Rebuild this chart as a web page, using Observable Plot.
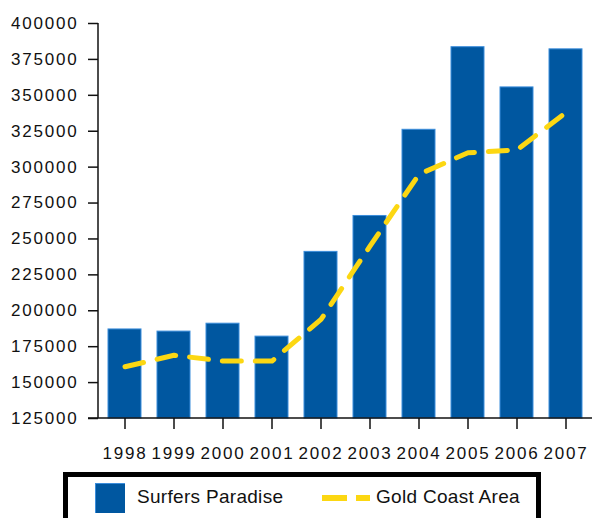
<!DOCTYPE html>
<html>
<head>
<meta charset="utf-8">
<script src="https://cdn.jsdelivr.net/npm/d3@7"></script>
<script src="https://cdn.jsdelivr.net/npm/@observablehq/plot@0.6"></script>
<style>
  html, body { margin: 0; padding: 0; background: #fff; }
  #wrap { width: 592px; height: 518px; overflow: hidden; position: relative; font-family: "Liberation Sans", Arial, sans-serif; }
  #legend { position: absolute; left: 63px; top: 472px; width: 468px; height: 60px; border: 5px solid #000; }
  .sw { position: absolute; }
  .lt { position: absolute; font-size: 19px; letter-spacing: 0.3px; color: #111; top: 9px; }
</style>
</head>
<body>
<div id="wrap"></div>
<script>
const years = ["1998","1999","2000","2001","2002","2003","2004","2005","2006","2007"];
const surfersParadise = [187000, 185500, 191000, 182000, 241000, 266000, 326000, 383500, 355500, 382000];
const goldCoastArea = [161000, 169000, 165000, 165000, 194000, 245000, 295000, 310000, 312000, 338000];
const yTicks = [125000, 150000, 175000, 200000, 225000, 250000, 275000, 300000, 325000, 350000, 375000, 400000];
const seriesNames = ["Surfers Paradise", "Gold Coast Area"];

const rows = years.map((y, i) => ({year: y, sp: surfersParadise[i], gc: goldCoastArea[i]}));

const barFill = "#0057a0";
const lineColor = "#fcd712";

function axisLines(index, scales, values, dimensions) {
  const g = d3.create("svg:g").attr("stroke", "#111").attr("stroke-width", 1.5).attr("fill", "none");
  const x0 = dimensions.marginLeft;
  const x1 = dimensions.width - dimensions.marginRight;
  const yTop = scales.y(d3.max(yTicks));
  const yBot = scales.y(d3.min(yTicks));
  g.append("line").attr("x1", x0).attr("x2", x0).attr("y1", yTop).attr("y2", yBot);
  g.append("line").attr("x1", x0 - 10).attr("x2", x1).attr("y1", yBot).attr("y2", yBot);
  return g.node();
}

const chart = Plot.plot({
  width: 592,
  height: 470,
  marginLeft: 98,
  marginRight: 0,
  marginTop: 23,
  marginBottom: 52,
  style: {fontFamily: "'Liberation Sans', Arial, sans-serif", fontSize: "17px", color: "#111", letterSpacing: "1.8px"},
  x: {domain: years, paddingInner: 0.33, paddingOuter: 0.165, align: 0.5, label: null},
  y: {domain: [125000, 400000], label: null},
  marks: [
    Plot.barY(rows, {x: "year", y1: 125000, y2: "sp", fill: barFill, stroke: "#3b8ddb", strokeWidth: 1}),
    Plot.line(rows, {x: "year", y: "gc", stroke: lineColor, strokeWidth: 5, strokeDasharray: "19,14", strokeLinecap: "round", strokeLinejoin: "round", curve: "linear"}),
    Plot.axisY(yTicks, {tickSize: 10, tickPadding: 10, tickFormat: d3.format("d"), stroke: "#111", strokeWidth: 1.5}),
    Plot.axisX({tickSize: 11, tickPadding: 17, stroke: "#111", strokeWidth: 1.5}),
    axisLines
  ]
});

const wrap = document.getElementById("wrap");
wrap.appendChild(chart);

const legend = document.createElement("div");
legend.id = "legend";
legend.innerHTML = `
  <div class="sw" style="left:27px;top:6px;width:30px;height:30px;background:${barFill};border-left:1px solid #3b8ddb;border-top:1px solid #3b8ddb;box-sizing:border-box;"></div>
  <div class="lt" style="left:69px;">${seriesNames[0]}</div>
  <svg class="sw" style="left:254px;top:16px;" width="48" height="10"><line x1="0" y1="5" x2="48" y2="5" stroke="${lineColor}" stroke-width="6" stroke-dasharray="25,9"/></svg>
  <div class="lt" style="left:308px;">${seriesNames[1]}</div>
`;
wrap.appendChild(legend);
</script>
</body>
</html>
